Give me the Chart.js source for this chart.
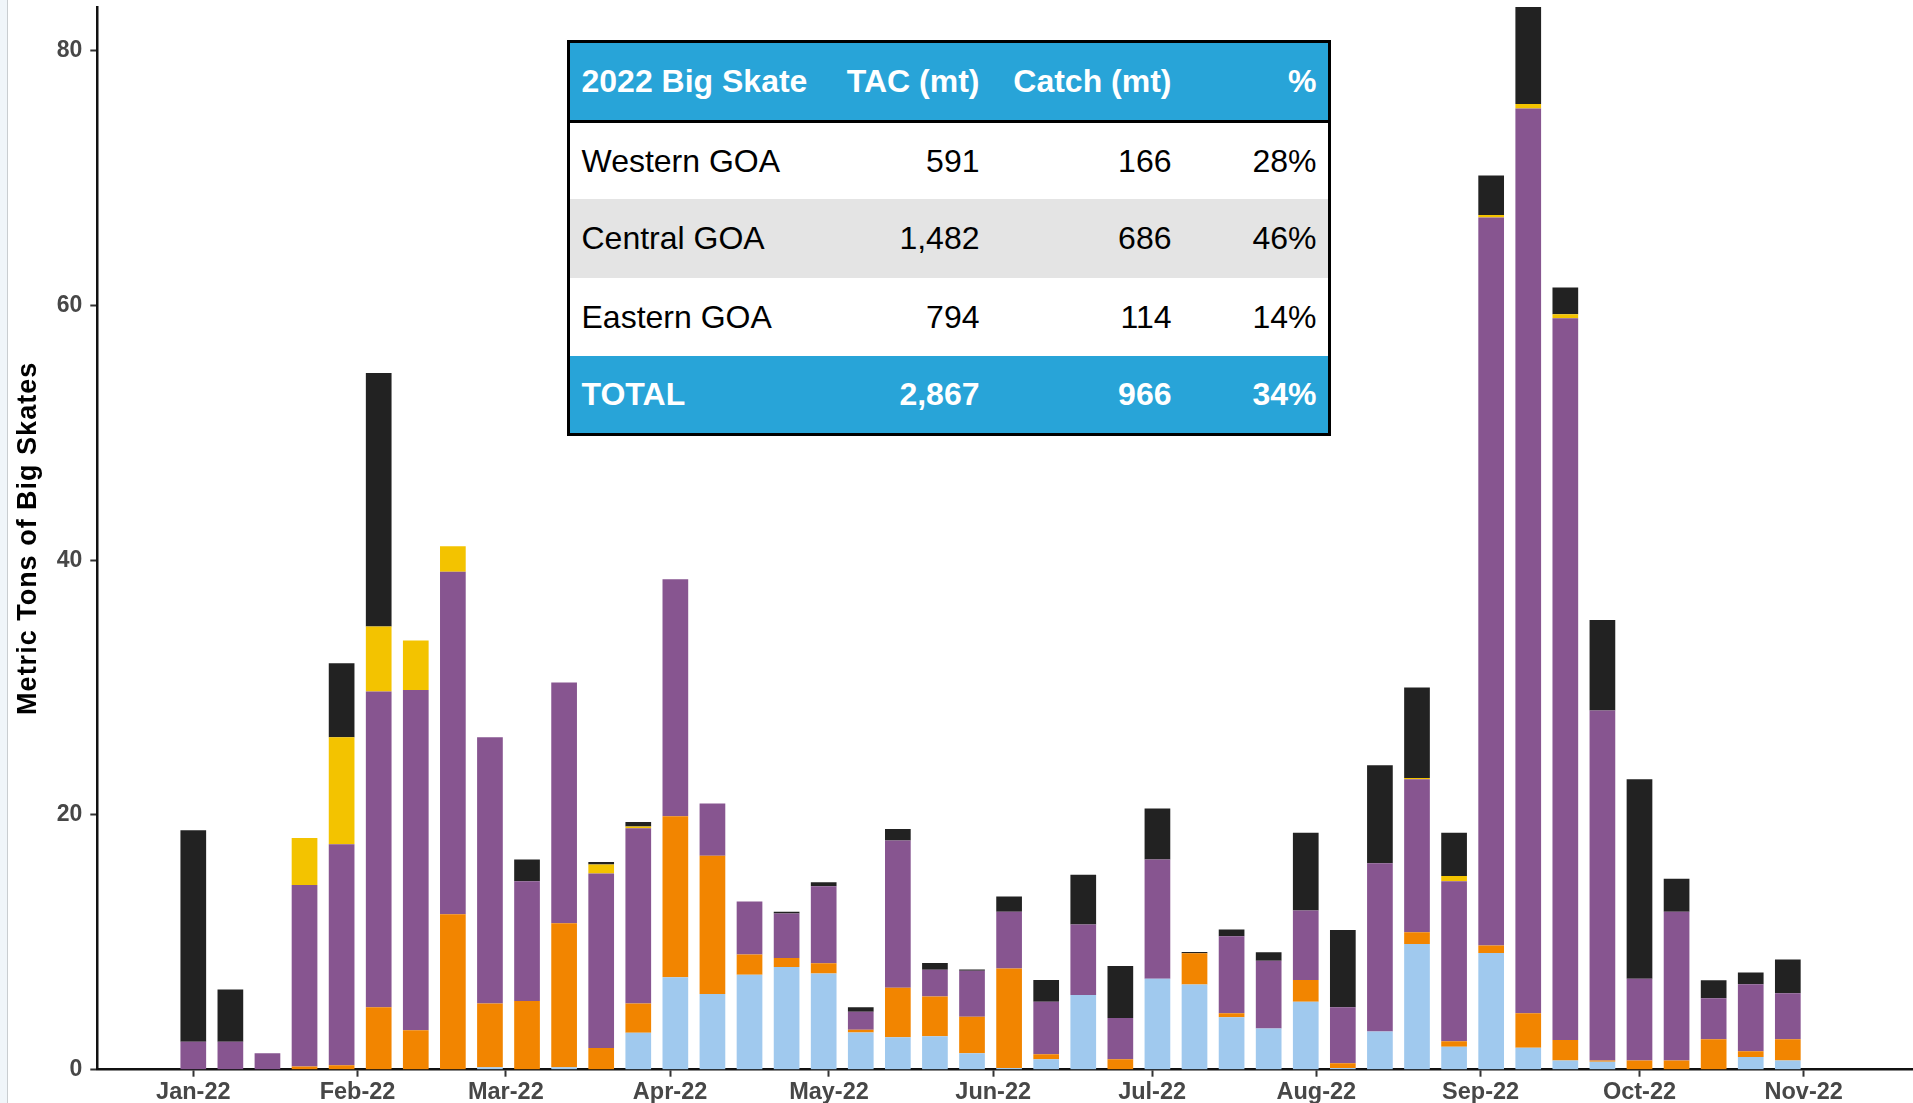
<!DOCTYPE html>
<html>
<head>
<meta charset="utf-8">
<title>2022 Big Skate catch by week</title>
<script src="https://cdn.jsdelivr.net/npm/chart.js@4.4.1/dist/chart.umd.min.js"></script>
<style>
  html, body { margin: 0; padding: 0; background: #fff; }
  #wrap { position: relative; width: 1913px; height: 1103px; overflow: hidden; }
  #chart { position: absolute; left: 0; top: 0; }
  #edge { position: absolute; left: 0; top: 0; width: 7px; height: 1103px; background: #f0f5f9; border-right: 1px solid #c9cdd0; }
  #tbl {
    position: absolute; left: 567px; top: 40px; width: 764px; height: 396px;
    box-sizing: border-box; border: 3px solid #000;
    font-family: "Liberation Sans", Arial, sans-serif; font-size: 32px; color: #000;
  }
  .row { display: grid; grid-template-columns: 259.5px 150px 192px 156px; align-items: center; box-sizing: border-box; }
  .row div { white-space: nowrap; }
  .row div:first-child { padding-left: 11.5px; }
  .row div:not(:first-child) { text-align: right; }
  .row div:last-child { padding-right: 11px; }
  .hdr { height: 80px; background: #28a4d8; color: #fff; font-weight: bold; border-bottom: 3px solid #000; }
  .r0 { height: 76px; background: #fff; }
  .r1 { height: 79px; background: #e4e4e4; }
  .r2 { height: 78px; background: #fff; }
  .tot { height: 77px; background: #28a4d8; color: #fff; font-weight: bold; }
</style>
</head>
<body>
<div id="wrap">
  <canvas id="chart" width="1913" height="1103"></canvas>
  <div id="edge"></div>
  <div id="tbl"></div>
</div>
<script>
// Week-ending dates (Saturdays) for each weekly bar
const weekEnding = [
  '2022-01-01','2022-01-08','2022-01-15','2022-01-22','2022-01-29',
  '2022-02-05','2022-02-12','2022-02-19','2022-02-26',
  '2022-03-05','2022-03-12','2022-03-19','2022-03-26',
  '2022-04-02','2022-04-09','2022-04-16','2022-04-23','2022-04-30',
  '2022-05-07','2022-05-14','2022-05-21','2022-05-28',
  '2022-06-04','2022-06-11','2022-06-18','2022-06-25',
  '2022-07-02','2022-07-09','2022-07-16','2022-07-23','2022-07-30',
  '2022-08-06','2022-08-13','2022-08-20','2022-08-27',
  '2022-09-03','2022-09-10','2022-09-17','2022-09-24',
  '2022-10-01','2022-10-08','2022-10-15','2022-10-22','2022-10-29'
];

// Weekly catch (metric tons) by component, stacked bottom to top
const lightBlue = [0,0,0,0,0, 0,0,0,0.2, 0,0.2,0,2.9, 7.25,5.95,7.45,8.07,7.56, 2.93,2.54,2.62,1.3,
  0.14,0.82,5.87,0, 7.14,6.69,4.12,3.24,5.33, 0.14,3.0,9.87,1.8, 9.17,1.72,0.73,0.62, 0,0,0,1.0,0.73];
const orange = [0,0,0,0.25,0.35, 4.9,3.1,12.2,5.0, 5.4,11.3,1.7,2.3, 12.65,10.85,1.6,0.7,0.8, 0.2,3.89,3.13,2.85,
  7.81,0.39,0,0.82, 0,2.45,0.31,0,1.72, 0.36,0,0.93,0.43, 0.59,2.71,1.61,0.11, 0.73,0.73,2.4,0.44,1.67];
const purple = [2.2,2.2,1.3,14.25,17.35, 24.8,26.7,26.9,20.9, 9.4,18.9,13.7,13.75, 18.6,4.1,4.15,3.5,6.05, 1.41,11.57,2.09,3.61,
  4.45,4.12,5.53,3.24, 9.36,0,6.04,5.31,5.45, 4.4,13.2,12.0,12.57, 57.14,71.04,56.66,27.47, 6.41,11.67,3.21,5.27,3.6];
const yellow = [0,0,0,3.7,8.4, 5.1,3.9,2.0,0, 0,0,0.7,0.15, 0,0,0,0,0, 0,0,0,0,
  0,0,0,0, 0,0,0,0,0, 0,0,0.1,0.4, 0.2,0.34,0.3,0, 0,0,0,0,0];
const black = [16.6,4.1,0,0,5.8, 19.9,0,0,0, 1.7,0,0.2,0.35, 0,0,0,0.13,0.3, 0.36,0.9,0.54,0.1,
  1.2,1.72,3.9,4.09, 4.0,0.11,0.53,0.67,6.1, 6.07,7.7,7.1,3.4, 3.1,7.62,2.1,7.1, 15.66,2.6,1.41,0.93,2.66];

// Axis labels
const monthLabels = ['Jan-22','Feb-22','Mar-22','Apr-22','May-22','Jun-22','Jul-22','Aug-22','Sep-22','Oct-22','Nov-22'];
const yTickValues = [0, 20, 40, 60, 80];
const yTitle = 'Metric Tons of Big Skates';

// Summary table
const tableHeader = ['2022 Big Skate', 'TAC (mt)', 'Catch (mt)', '%'];
const areas = ['Western GOA', 'Central GOA', 'Eastern GOA'];
const tac = [591, 1482, 794];
const catchMt = [166, 686, 114];

const DAY = 86400000;
const origin = Date.UTC(2022, 0, 1);
const dayOf = s => (Date.parse(s + 'T00:00:00Z') - origin) / DAY;
const monthTicks = monthLabels.map((_, i) => (Date.UTC(2022, i, 1) - origin) / DAY);

const fmt = n => n.toLocaleString('en-US');
const pct = (c, t) => Math.round(100 * c / t) + '%';

// Build the summary table
(function buildTable() {
  const tbl = document.getElementById('tbl');
  const addRow = (cls, cells) => {
    const r = document.createElement('div');
    r.className = 'row ' + cls;
    cells.forEach(t => { const c = document.createElement('div'); c.textContent = t; r.appendChild(c); });
    tbl.appendChild(r);
  };
  addRow('hdr', tableHeader);
  areas.forEach((a, i) => addRow('r' + i, [a, fmt(tac[i]), fmt(catchMt[i]), pct(catchMt[i], tac[i])]));
  const tTac = tac.reduce((a, b) => a + b, 0);
  const tCatch = catchMt.reduce((a, b) => a + b, 0);
  addRow('tot', ['TOTAL', fmt(tTac), fmt(tCatch), pct(tCatch, tTac)]);
})();

const series = [
  { label: 'Light blue', values: lightBlue, color: '#a0c9ee' },
  { label: 'Orange', values: orange, color: '#f28500' },
  { label: 'Purple', values: purple, color: '#875590' },
  { label: 'Yellow', values: yellow, color: '#f3c300' },
  { label: 'Black', values: black, color: '#222222' }
];

const datasets = series.map(s => ({
  label: s.label,
  data: weekEnding.map((d, i) => ({ x: dayOf(d), y: s.values[i] > 0 ? s.values[i] : null })),
  backgroundColor: s.color,
  borderWidth: 0,
  barPercentage: 0.693,
  categoryPercentage: 1
}));

const FONT = '"Liberation Sans", Arial, sans-serif';

// Rotated y-axis title
const yTitlePlugin = {
  id: 'yTitle',
  afterDraw(chart) {
    const { ctx, chartArea } = chart;
    ctx.save();
    ctx.font = 'bold 27px ' + FONT;
    ctx.fillStyle = '#000';
    if ('letterSpacing' in ctx) ctx.letterSpacing = '1px';
    ctx.translate(36, (chartArea.top + chartArea.bottom) / 2);
    ctx.rotate(-Math.PI / 2);
    ctx.textAlign = 'center';
    ctx.textBaseline = 'alphabetic';
    ctx.fillText(yTitle, 0, 0);
    ctx.restore();
  }
};

const axisGrid = { offset: false, drawOnChartArea: false, drawTicks: true, tickLength: 7, tickColor: '#333', tickWidth: 2 };
const axisBorder = { display: true, color: '#111', width: 2.5 };

new Chart(document.getElementById('chart'), {
  type: 'bar',
  data: { datasets },
  options: {
    responsive: false,
    animation: false,
    layout: { padding: { top: 7, left: 0, right: 0, bottom: 0 } },
    plugins: { legend: { display: false }, tooltip: { enabled: false } },
    scales: {
      x: {
        type: 'linear',
        stacked: true,
        bounds: 'data',
        min: -18.12,
        max: 324.63,
        offset: false,
        afterBuildTicks: s => { s.ticks = monthTicks.map(v => ({ value: v })); },
        afterFit: s => { s.height = 33.3; s.paddingLeft = 0; s.paddingRight = 0; },
        ticks: {
          autoSkip: false, maxRotation: 0, minRotation: 0, padding: 2,
          color: '#474747', font: { family: FONT, size: 23.5, weight: 'bold' },
          callback: v => { const i = monthTicks.indexOf(v); return i >= 0 ? monthLabels[i] : ''; }
        },
        grid: axisGrid,
        border: axisBorder
      },
      y: {
        stacked: true,
        bounds: 'data',
        min: 0,
        max: 83.43,
        afterBuildTicks: s => { s.ticks = yTickValues.map(v => ({ value: v })); },
        afterFit: s => { s.width = 97.3; s.paddingTop = 0; s.paddingBottom = 0; },
        ticks: { padding: 8, color: '#474747', font: { family: FONT, size: 23, weight: 'bold' } },
        grid: axisGrid,
        border: axisBorder
      }
    }
  },
  plugins: [yTitlePlugin]
});
</script>
</body>
</html>
